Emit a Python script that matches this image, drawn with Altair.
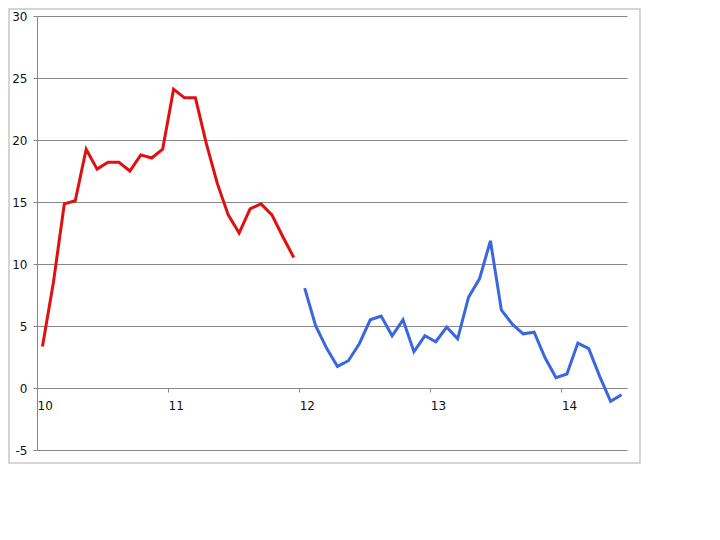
import altair as alt
import pandas as pd

red_values = [3.35, 8.5, 14.85, 15.1, 19.26, 17.65, 18.2, 18.2, 17.5, 18.8, 18.55, 19.26,
              24.1, 23.4, 23.4, 19.7, 16.5, 13.96, 12.5, 14.45, 14.85, 13.96, 12.2, 10.52]
blue_values = [8.06, 5.02, 3.22, 1.74, 2.2, 3.57, 5.5, 5.8, 4.21, 5.5, 2.92, 4.21,
               3.73, 4.91, 3.97, 7.33, 8.8, 11.87, 6.3, 5.15, 4.37, 4.5, 2.44, 0.83,
               1.13, 3.62, 3.17, 0.94, -1.08, -0.54]
red_start = 10.0
blue_start = 12.0
x_ticks = [10, 11, 12, 13, 14]
y_ticks = [-5, 0, 5, 10, 15, 20, 25, 30]

rows = []
for i, v in enumerate(red_values):
    rows.append({"x": red_start + (i + 0.5) / 12, "y": v, "series": "a"})
for i, v in enumerate(blue_values):
    rows.append({"x": blue_start + (i + 0.5) / 12, "y": v, "series": "b"})
df = pd.DataFrame(rows)

W, H = 590, 434

lines = alt.Chart(df).mark_line(strokeWidth=3).encode(
    x=alt.X("x:Q", scale=alt.Scale(domain=[10, 14.5], nice=False, zero=False),
            axis=alt.Axis(values=x_ticks, title=None, grid=False, offset=-62,
                          domainColor="#888888", tickColor="#888888", tickSize=4,
                          labelPadding=8, labelAlign="left", labelFlush=False,
                          labelFontSize=12,
                          labelFont="DejaVu Sans", labelColor="#111111")),
    y=alt.Y("y:Q", scale=alt.Scale(domain=[-5, 30], nice=False),
            axis=alt.Axis(values=y_ticks, title=None, grid=True, gridColor="#888888",
                          gridWidth=1, domainColor="#888888", tickColor="#888888",
                          tickSize=4, labelPadding=6, labelFontSize=12,
                          labelExpr="'' + datum.value",
                          labelFont="DejaVu Sans", labelColor="#111111")),
    color=alt.Color("series:N", scale=alt.Scale(domain=["a", "b"],
                                                range=["#e01010", "#3a66e0"]),
                    legend=None),
    detail="series:N",
)

frame = alt.Chart(pd.DataFrame({"k": [0]})).mark_rect(
    fill=None, stroke="#c8c8c8", strokeWidth=1.5
).encode(
    x=alt.value(-28), x2=alt.value(603), y=alt.value(-7), y2=alt.value(447)
)

chart = alt.layer(frame, lines).properties(
    width=W, height=H,
    autosize=alt.AutoSizeParams(type="none"),
    padding={"left": 29, "top": 8, "right": 20, "bottom": 20},
).configure_view(stroke=None)

chart.save("out.html", embed_options={"renderer": "svg", "actions": False})
